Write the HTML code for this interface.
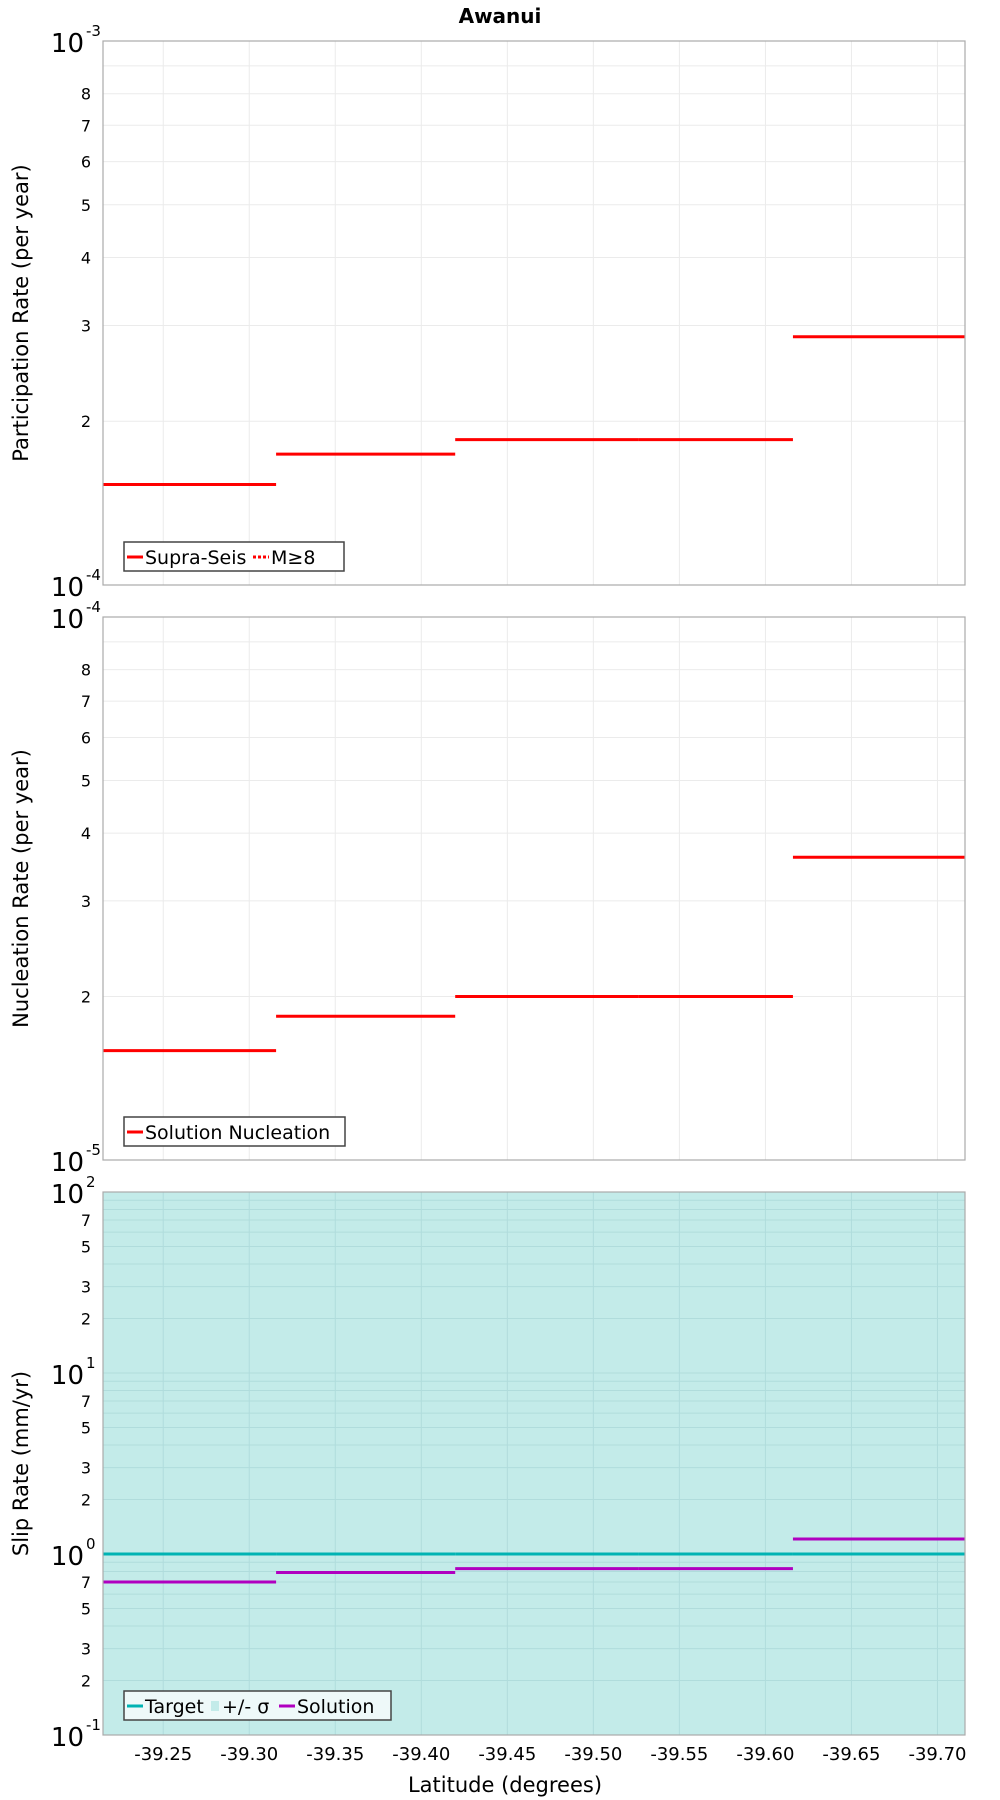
<!DOCTYPE html>
<html><head><meta charset="utf-8"><style>
body{margin:0;background:#fff;width:1000px;height:1800px;overflow:hidden}
svg{display:block;font-family:"DejaVu Sans","Liberation Sans",sans-serif}
</style></head><body>
<svg id="c" width="1000" height="1800" xmlns="http://www.w3.org/2000/svg">
<text x="500" y="23" text-anchor="middle" font-size="20" font-weight="bold">Awanui</text>
<text x="505" y="1792" text-anchor="middle" font-size="21">Latitude (degrees)</text>
</svg>
<script>
const binEdges=[-39.215,-39.3156,-39.4197,-39.526,-39.616,-39.716];
const partRates=[1.53e-4,1.74e-4,1.85e-4,1.85e-4,2.86e-4];
const nuclRates=[1.59e-5,1.84e-5,2.0e-5,2.0e-5,3.61e-5];
const slipTarget=[1.0,1.0,1.0,1.0,1.0];
const slipSolution=[0.70,0.79,0.83,0.83,1.21];
const xTicks=[-39.25,-39.30,-39.35,-39.40,-39.45,-39.50,-39.55,-39.60,-39.65,-39.70];
const xTickLabels=["-39.25","-39.30","-39.35","-39.40","-39.45","-39.50","-39.55","-39.60","-39.65","-39.70"];

const NS="http://www.w3.org/2000/svg";
const svg=document.getElementById('c');
const L=103,R=965;
const xMin=-39.215,xMax=-39.716;
function xs(v){return L+(v-xMin)/(xMax-xMin)*(R-L);}
function mk(tag,attrs,parent){const e=document.createElementNS(NS,tag);for(const k in attrs)e.setAttribute(k,attrs[k]);(parent||svg).appendChild(e);return e;}

function panel(cfg){
  const g=mk('g',{});
  
  
  const T=cfg.top,B=cfg.bot;
  const ys=v=>B-(Math.log10(v)-cfg.d0)/(cfg.d1-cfg.d0)*(B-T);
  const bg=mk('rect',{x:L,y:T,width:R-L,height:B-T,fill:cfg.bg||'#fff'},g);
  
  
  const gc=cfg.bg?'#b0dcdc':'#ebebeb';
  for(const t of xTicks){mk('line',{x1:xs(t),x2:xs(t),y1:T,y2:B,stroke:gc,'stroke-width':1},g);}
  for(let d=cfg.d0;d<cfg.d1;d++){
    for(let m=1;m<10;m++){
      const v=m*Math.pow(10,d);const y=ys(v);
      mk('line',{x1:L,x2:R,y1:y,y2:y,stroke:gc,'stroke-width':1},g);
      if(m>1 && cfg.minorLabels.includes(m)){
        const t=mk('text',{x:L-12,y:y+6,'text-anchor':'end','font-size':16},g);t.textContent=m;
        
        
      }
    }
  }
  for(let d=cfg.d0;d<=cfg.d1;d++){
    const y=ys(Math.pow(10,d));
    const t=mk('text',{x:L-19,y:y+11,'text-anchor':'end','font-size':26},g);t.textContent='10';
    
    
    const s=mk('text',{x:L-17,y:y-5,'font-size':15},g);s.textContent=String(d);
  }
  // series
  cfg.series.forEach(sr=>{
    for(let i=0;i<sr.vals.length;i++){
      const y=ys(sr.vals[i]);
      const ln=mk('line',{x1:xs(binEdges[i]),x2:xs(binEdges[i+1]),y1:y,y2:y,stroke:sr.color,'stroke-width':3},g);
      
      
    }
  });
  mk('rect',{x:L,y:T,width:R-L,height:B-T,fill:'none',stroke:'#aaa','stroke-width':1.2},g);
  const yt=mk('text',{transform:`translate(28,${(T+B)/2}) rotate(-90)`,'text-anchor':'middle','font-size':21},g);
  yt.textContent=cfg.ytitle;
  
  
  // legend
  const lg=mk('g',{},g);
  
  
  mk('rect',{x:124,y:cfg.legY,width:cfg.legW,height:29,fill:cfg.bg?'#eef9f9':'#fff',stroke:'#444','stroke-width':1.5},lg);
  let x=127;const ly=cfg.legY+15;
  cfg.legend.forEach(it=>{
    if(it.type==='line')mk('line',{x1:x,x2:x+16,y1:ly,y2:ly,stroke:it.color,'stroke-width':3},lg);
    else if(it.type==='dash')mk('line',{x1:x,x2:x+16,y1:ly,y2:ly,stroke:it.color,'stroke-width':3,'stroke-dasharray':'3,2'},lg);
    else mk('rect',{x:x+2,y:ly-5,width:8,height:10,fill:it.color},lg);
    const t=mk('text',{x:x+(it.type==='box'?13:18),y:ly+7,'font-size':19},lg);t.textContent=it.label;
    
    
    x+=(it.type==='box'?13:18)+it.w;
  });
}

panel({name:'participation-panel',top:41,bot:585,d0:-4,d1:-3,minorLabels:[2,3,4,5,6,7,8],
  ytitle:'Participation Rate (per year)',legY:542,legW:220,
  series:[{id:'supra-seis',vals:partRates,color:'#ff0000'}],
  legend:[{type:'line',color:'#ff0000',label:'Supra-Seis',w:108},{type:'dash',color:'#ff0000',label:'M≥8',w:50}]});
panel({name:'nucleation-panel',top:617,bot:1160,d0:-5,d1:-4,minorLabels:[2,3,4,5,6,7,8],
  ytitle:'Nucleation Rate (per year)',legY:1117,legW:221,
  series:[{id:'solution-nucleation',vals:nuclRates,color:'#ff0000'}],
  legend:[{type:'line',color:'#ff0000',label:'Solution Nucleation',w:200}]});
panel({name:'slip-rate-panel',top:1192,bot:1735,d0:-1,d1:2,minorLabels:[2,3,5,7],bg:'#c3ebe9',
  ytitle:'Slip Rate (mm/yr)',legY:1691,legW:267,
  series:[{id:'target',vals:slipTarget,color:'#00b3b3'},{id:'solution',vals:slipSolution,color:'#b000c0'}],
  legend:[{type:'line',color:'#00b3b3',label:'Target',w:64},{type:'box',color:'#c3ebe9',label:'+/- σ',w:57},{type:'line',color:'#b000c0',label:'Solution',w:80}]});

xTicks.forEach((t,i)=>{
  const e=mk('text',{x:xs(t),y:1760,'text-anchor':'middle','font-size':18});
  e.textContent=xTickLabels[i];
  
  
});
</script>
</body></html>
